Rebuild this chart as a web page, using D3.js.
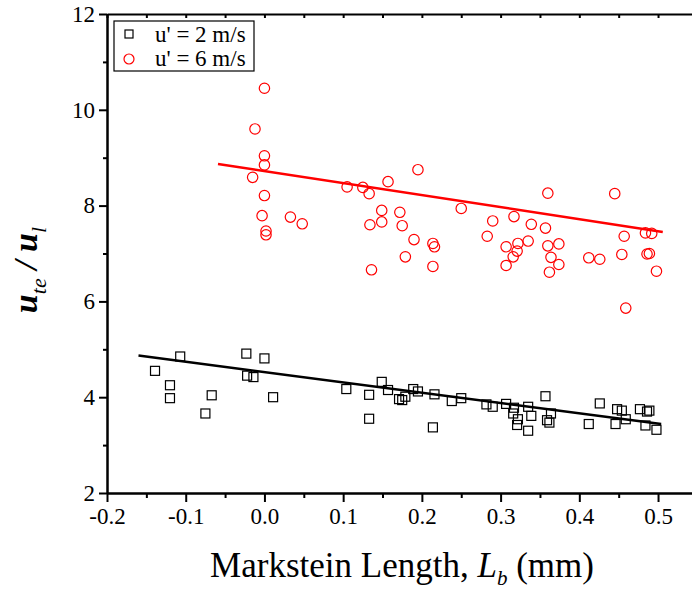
<!DOCTYPE html>
<html lang="en">
<head>
<meta charset="utf-8">
<title>Markstein length</title>
<script src="https://d3js.org/d3.v7.min.js"></script>
<style>
  body { margin: 0; background: #fff; }
  svg { font-family: "Liberation Serif", "Times New Roman", serif; }
  .axis path, .axis line { stroke: #000; stroke-width: 2; }
  .axis text { font-family: "Liberation Serif", "Times New Roman", serif; font-size: 23px; fill: #000; }
</style>
</head>
<body>
<script>
// u' = 6 m/s (red circles)
var redL = [0.0, -0.012, 0.0, 0.0, -0.015, 0.0, -0.003, 0.033, 0.048, 0.002, 0.002,
  0.105, 0.125, 0.133, 0.157, 0.195, 0.149, 0.172, 0.134, 0.149, 0.175, 0.190, 0.214,
  0.216, 0.179, 0.214, 0.136, 0.250, 0.290, 0.317, 0.339, 0.357, 0.360, 0.445, 0.283,
  0.307, 0.322, 0.335, 0.321, 0.316, 0.307, 0.360, 0.374, 0.364, 0.374, 0.362, 0.412,
  0.426, 0.457, 0.454, 0.484, 0.492, 0.486, 0.489, 0.498, 0.459];
var redY = [10.45, 9.6, 9.04, 8.85, 8.59, 8.21, 7.79, 7.76, 7.62, 7.47, 7.39,
  8.39, 8.38, 8.25, 8.50, 8.75, 7.90, 7.86, 7.60, 7.66, 7.58, 7.29, 7.21,
  7.14, 6.93, 6.73, 6.66, 7.94, 7.68, 7.77, 7.61, 7.53, 8.26, 8.25, 7.36,
  7.14, 7.21, 7.26, 7.05, 6.93, 6.75, 7.16, 7.20, 6.92, 6.77, 6.61, 6.91,
  6.88, 7.36, 6.98, 7.43, 7.42, 6.99, 7.00, 6.63, 5.86];

// u' = 2 m/s (black squares)
var blackL = [-0.139, -0.107, -0.120, -0.120, -0.067, -0.075, -0.023, -0.022, -0.014, 0.0,
  0.011, 0.104, 0.133, 0.133, 0.149, 0.157, 0.171, 0.175, 0.179, 0.189, 0.195, 0.216,
  0.214, 0.238, 0.250, 0.282, 0.290, 0.307, 0.317, 0.316, 0.322, 0.321, 0.335, 0.339,
  0.335, 0.357, 0.359, 0.362, 0.364, 0.412, 0.426, 0.446, 0.448, 0.454, 0.459, 0.477,
  0.484, 0.486, 0.489, 0.498];
var blackY = [4.55, 4.85, 4.25, 3.98, 4.04, 3.66, 4.91, 4.45, 4.42, 4.81,
  4.00, 4.17, 4.05, 3.55, 4.32, 4.15, 3.96, 3.94, 4.01, 4.17, 4.12, 4.06,
  3.37, 3.92, 3.98, 3.85, 3.80, 3.86, 3.78, 3.66, 3.54, 3.42, 3.80, 3.61,
  3.30, 4.02, 3.52, 3.47, 3.66, 3.44, 3.87, 3.44, 3.75, 3.72, 3.54, 3.75,
  3.41, 3.70, 3.72, 3.32];

// linear fits, end points
var redFitL = [-0.059, 0.506], redFitY = [8.87, 7.45];
var blackFitL = [-0.160, 0.504], blackFitY = [4.87, 3.44];

var xTicks = [-0.2, -0.1, 0.0, 0.1, 0.2, 0.3, 0.4, 0.5];
var xMinor = [-0.15, -0.05, 0.05, 0.15, 0.25, 0.35, 0.45];
var yTicks = [2, 4, 6, 8, 10, 12];
var yMinor = [3, 5, 7, 9, 11];

var W = 692, H = 592;
var svg = d3.select("body").append("svg").attr("width", W).attr("height", H);

var x = d3.scaleLinear().domain([-0.2, 0.55]).range([107, 697.4]);
var y = d3.scaleLinear().domain([2, 12]).range([493, 14]);

function fmtX(d) { return d3.format(".1f")(d).replace("\u2212", "-"); }

// top frame with small inward ticks
svg.append("g").attr("class", "axis").attr("transform", "translate(0,14)")
  .call(d3.axisTop(x).tickValues(xTicks.concat(xMinor)).tickSize(-4).tickFormat("").tickSizeOuter(0));

// bottom axis
svg.append("g").attr("class", "axis").attr("transform", "translate(0,493)")
  .call(d3.axisBottom(x).tickValues(xMinor).tickSize(5).tickFormat("").tickSizeOuter(0));
svg.append("g").attr("class", "axis").attr("transform", "translate(0,493)")
  .call(d3.axisBottom(x).tickValues(xTicks).tickSize(9).tickPadding(6).tickSizeOuter(0)
    .tickFormat(fmtX));

// left axis
svg.append("g").attr("class", "axis").attr("transform", "translate(107,0)")
  .call(d3.axisLeft(y).tickValues(yMinor).tickSize(4).tickFormat("").tickSizeOuter(0));
svg.append("g").attr("class", "axis").attr("transform", "translate(107,0)")
  .call(d3.axisLeft(y).tickValues(yTicks).tickSize(8).tickPadding(4).tickSizeOuter(0));

// fit lines
var line = d3.line().x(function(d) { return x(d[0]); }).y(function(d) { return y(d[1]); });
svg.append("path").attr("d", line(d3.zip(redFitL, redFitY)))
  .attr("stroke", "#ff0000").attr("stroke-width", 2.5).attr("fill", "none");
svg.append("path").attr("d", line(d3.zip(blackFitL, blackFitY)))
  .attr("stroke", "#000").attr("stroke-width", 2.5).attr("fill", "none");

// points
var s = 9;
svg.append("g").selectAll("rect").data(d3.zip(blackL, blackY)).enter().append("rect")
  .attr("x", function(d) { return x(d[0]) - s / 2; })
  .attr("y", function(d) { return y(d[1]) - s / 2; })
  .attr("width", s).attr("height", s)
  .attr("fill", "none").attr("stroke", "#000").attr("stroke-width", 1.2);

svg.append("g").selectAll("circle").data(d3.zip(redL, redY)).enter().append("circle")
  .attr("cx", function(d) { return x(d[0]); })
  .attr("cy", function(d) { return y(d[1]); })
  .attr("r", 5.2)
  .attr("fill", "none").attr("stroke", "#ff0000").attr("stroke-width", 1.2);

// legend
var lg = svg.append("g");
lg.append("rect").attr("x", 114).attr("y", 21).attr("width", 140).attr("height", 50)
  .attr("fill", "#fff").attr("stroke", "#000").attr("stroke-width", 1.2);
lg.append("rect").attr("x", 125).attr("y", 30).attr("width", 8).attr("height", 8)
  .attr("fill", "none").attr("stroke", "#000").attr("stroke-width", 1.2);
lg.append("circle").attr("cx", 129).attr("cy", 59).attr("r", 5)
  .attr("fill", "none").attr("stroke", "#ff0000").attr("stroke-width", 1.2);
lg.append("text").attr("x", 155).attr("y", 42).attr("font-size", 23).text("u' = 2 m/s");
lg.append("text").attr("x", 155).attr("y", 66).attr("font-size", 23).text("u' = 6 m/s");

// x label
var xl = svg.append("text").attr("x", 402).attr("y", 577).attr("text-anchor", "middle")
  .attr("font-size", 35);
xl.append("tspan").text("Markstein Length, ");
xl.append("tspan").attr("font-style", "italic").text("L");
xl.append("tspan").attr("font-style", "italic").attr("font-size", 21).attr("dy", 8).text("b");
xl.append("tspan").attr("dy", -8).text(" (mm)");

// y label
var yl = svg.append("text").attr("transform", "translate(37,270) rotate(-90)")
  .attr("text-anchor", "middle").attr("font-size", 34)
  .attr("font-style", "italic").attr("font-weight", "bold");
yl.append("tspan").text("u");
yl.append("tspan").attr("font-size", 22).attr("font-weight", "normal").attr("dy", 9).text("te");
yl.append("tspan").attr("dy", -9).text(" / u");
yl.append("tspan").attr("font-size", 22).attr("font-weight", "normal").attr("dy", 9).text("l");
</script>
</body>
</html>
